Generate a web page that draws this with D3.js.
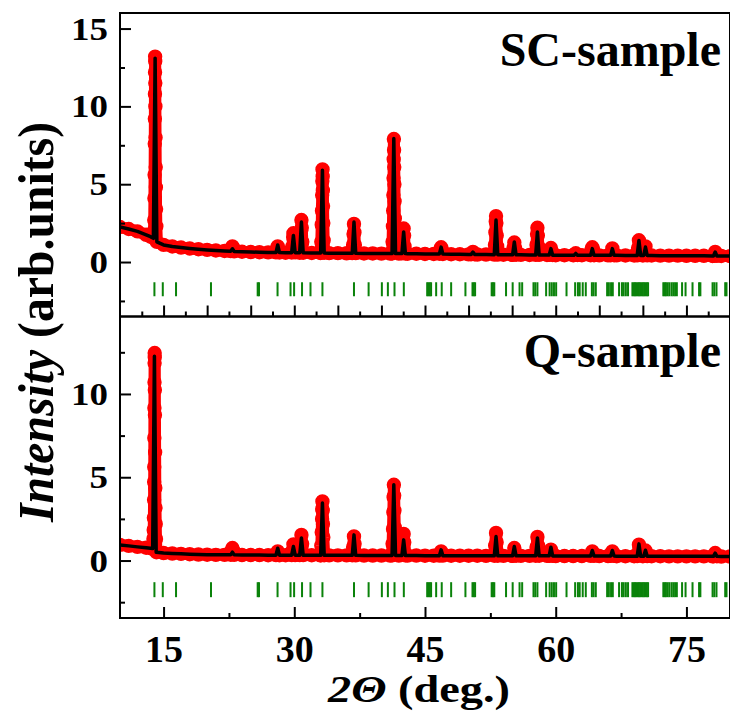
<!DOCTYPE html>
<html>
<head>
<meta charset="utf-8">
<script src="https://cdn.jsdelivr.net/npm/d3@7.9.0/dist/d3.min.js"></script>
<style>
  html, body { margin: 0; padding: 0; background: #fff; }
  svg { display: block; font-family: "Liberation Serif", "Times New Roman", serif; font-weight: bold; }
</style>
</head>
<body>
<div id="chart"></div>
<script>
// ── data ────────────────────────────────────────────────
const xMajor = [15, 30, 45, 60, 75];
const xMinorTop = [12.5, 15, 17.5, 20, 22.5, 25, 27.5, 30, 32.5, 35, 37.5, 40, 42.5, 45, 47.5, 50, 52.5, 55, 57.5, 60, 62.5, 65, 67.5, 70, 72.5, 75, 77.5];
const xMinorBottom = [22.5, 37.5, 52.5, 67.5];
const scTicksY = [0, 5, 10, 15];
const qTicksY = [0, 5, 10];
const yMinor = [-2.5, 2.5, 7.5, 12.5];

// Bragg reflection positions (green bars), 2θ
const braggPos = [13.95, 14.91, 16.43, 20.44, 25.8, 25.95, 28.08, 29.57, 29.98, 30.89, 31.86, 33.23,
  36.85, 38.53, 40.05, 40.74, 41.5, 42.57, 45.25, 45.4, 45.55, 45.7, 46.28, 46.92, 48.0, 49.64,
  50.45, 50.6, 50.75, 52.65, 52.8, 52.95, 54.3, 55.06, 55.85, 56.15, 57.45, 57.65, 57.9, 58.9,
  59.3, 59.55, 59.8, 60.05, 61.24, 62.23, 62.55, 62.75, 63.1, 63.45, 64.15, 64.35, 64.6, 65.9,
  66.1, 66.35, 66.55, 67.27, 67.6, 67.8, 68.05, 68.3, 68.8, 68.95, 69.1, 69.25, 69.4, 69.55,
  69.7, 69.85, 70.0, 70.15, 70.3, 70.45, 70.6, 72.35, 72.5, 72.65, 72.85, 73.05, 73.3, 73.5,
  73.7, 73.9, 74.5, 74.9, 75.7, 76.45, 76.6, 78.0, 78.2, 78.45, 79.45, 79.6];
const braggSpan = [-1.3, -2.2];

// SC-sample
const scBackground = [[10,2.25],[11,2.12],[12,1.97],[13,1.75],[13.5,1.63],[15,1.1],[16,1.0],[17,0.93],
  [18,0.87],[19,0.82],[20,0.78],[21,0.74],[22,0.71],[23,0.68],[24,0.66],[25,0.64],[26,0.63],[27,0.62],
  [28,0.61],[29,0.6],[30,0.6],[31,0.59],[32,0.58],[33,0.58],[34,0.57],[35,0.57],[36,0.56],[37,0.56],
  [38,0.55],[39,0.55],[40,0.54],[41,0.54],[42,0.54],[43,0.53],[44,0.53],[45,0.52],[46,0.52],[47,0.51],
  [48,0.5],[49,0.5],[50,0.49],[51,0.48],[52,0.48],[53,0.47],[54,0.47],[55,0.46],[56,0.46],[57,0.45],
  [58,0.45],[59,0.45],[60,0.44],[61,0.44],[62,0.44],[63,0.44],[64,0.43],[65,0.43],[66,0.43],[67,0.43],
  [68,0.42],[69,0.42],[70,0.42],[71,0.42],[72,0.41],[73,0.41],[74,0.41],[75,0.4],[76,0.4],[77,0.4],
  [78,0.39],[79,0.39],[80,0.38]];
const scObsPeaks = [
  [[13.83,1.55],[13.9,2.0],[13.93,2.7],[13.95,4.1],[13.97,5.6],[13.99,7.6],[14.0,9.2],[14.01,10.8],[14.02,12.2],[14.03,13.2],[14.04,12.9],[14.05,11.5],[14.06,10.0],[14.08,8.0],[14.1,6.1],[14.12,4.8],[14.14,3.4],[14.17,2.3],[14.23,1.3]],
  [[22.7,0.7],[22.8,0.9],[22.9,1.0],[23.0,0.9],[23.1,0.69]],
  [[27.9,0.62],[28.05,0.9],[28.1,1.0],[28.15,0.85],[28.3,0.61]],
  [[29.7,0.61],[29.8,1.0],[29.87,1.6],[29.9,1.85],[29.95,1.4],[30.1,0.62]],
  [[30.62,0.6],[30.72,1.2],[30.78,2.0],[30.82,2.7],[30.86,2.2],[30.92,1.3],[31.02,0.6]],
  [[33.03,0.6],[33.1,1.3],[33.15,2.4],[33.18,3.3],[33.2,4.3],[33.22,5.2],[33.24,5.95],[33.26,5.5],[33.28,4.6],[33.3,3.6],[33.33,2.5],[33.37,1.4],[33.43,0.6]],
  [[36.65,0.57],[36.75,1.1],[36.8,1.8],[36.85,2.45],[36.9,1.9],[36.95,1.1],[37.05,0.57]],
  [[41.22,0.55],[41.28,1.3],[41.32,2.3],[41.35,3.3],[41.37,4.3],[41.39,5.4],[41.41,6.6],[41.43,7.9],[41.45,7.2],[41.47,6.1],[41.49,5.0],[41.51,3.9],[41.54,2.8],[41.58,1.7],[41.62,0.8]],
  [[42.35,0.56],[42.45,1.2],[42.5,1.8],[42.55,2.15],[42.6,1.7],[42.65,1.0],[42.75,0.55]],
  [[46.65,0.53],[46.78,0.8],[46.85,0.95],[46.92,0.8],[47.05,0.52]],
  [[50.3,0.5],[50.5,0.65],[50.7,0.5]],
  [[52.95,0.48],[53.03,1.1],[53.08,1.9],[53.12,2.6],[53.15,2.95],[53.19,2.5],[53.23,1.7],[53.28,1.0],[53.35,0.48]],
  [[55.05,0.47],[55.15,0.9],[55.25,1.25],[55.35,0.9],[55.45,0.47]],
  [[57.7,0.46],[57.8,1.1],[57.86,1.8],[57.9,2.2],[57.95,1.7],[58.0,1.0],[58.1,0.46]],
  [[59.25,0.46],[59.45,0.9],[59.65,0.45]],
  [[62.1,0.45],[62.3,0.56],[62.5,0.45]],
  [[64.0,0.44],[64.12,0.8],[64.2,0.95],[64.28,0.8],[64.4,0.44]],
  [[66.3,0.44],[66.5,0.88],[66.7,0.44]],
  [[69.35,0.43],[69.45,0.9],[69.55,1.4],[69.65,1.0],[69.75,0.6]],
  [[70.1,0.6],[70.3,1.0],[70.5,0.43]],
  [[78.1,0.4],[78.3,0.65],[78.5,0.4]]
];
const scCalcPeaks = [
  [[13.83,1.52],[14.03,13.1],[14.23,1.3]],
  [[22.7,0.69],[22.9,0.85],[23.1,0.68]],
  [[27.9,0.61],[28.1,1.1],[28.3,0.61]],
  [[29.7,0.6],[29.9,1.71],[30.1,0.6]],
  [[30.62,0.6],[30.82,2.57],[31.02,0.59]],
  [[33.03,0.58],[33.23,5.9],[33.43,0.58]],
  [[36.65,0.56],[36.85,2.57],[37.05,0.56]],
  [[41.22,0.54],[41.42,7.93],[41.62,0.54]],
  [[42.35,0.54],[42.55,1.93],[42.75,0.54]],
  [[46.65,0.52],[46.85,0.96],[47.05,0.51]],
  [[50.3,0.49],[50.5,0.64],[50.7,0.49]],
  [[52.95,0.47],[53.15,2.7],[53.35,0.47]],
  [[55.05,0.46],[55.25,1.29],[55.45,0.46]],
  [[57.7,0.45],[57.9,1.93],[58.1,0.45]],
  [[59.25,0.45],[59.45,0.86],[59.65,0.44]],
  [[62.1,0.44],[62.3,0.55],[62.5,0.44]],
  [[64.0,0.43],[64.2,0.86],[64.4,0.43]],
  [[66.3,0.43],[66.5,0.86],[66.7,0.43]],
  [[69.35,0.42],[69.55,1.39],[69.75,0.42]],
  [[70.1,0.42],[70.3,0.96],[70.5,0.42]],
  [[78.1,0.39],[78.3,0.64],[78.5,0.39]]
];

// Q-sample
const qBackground = [[10,0.94],[11,0.88],[12,0.82],[13,0.77],[13.5,0.74],[15,0.45],[16,0.42],[17,0.4],
  [18,0.38],[19,0.36],[20,0.35],[21,0.34],[22,0.34],[23,0.34],[24,0.33],[25,0.33],[26,0.33],[27,0.32],
  [28,0.32],[29,0.32],[30,0.32],[31,0.32],[32,0.32],[33,0.31],[34,0.31],[35,0.31],[36,0.31],[37,0.31],
  [38,0.3],[39,0.3],[40,0.3],[41,0.3],[42,0.3],[43,0.3],[44,0.3],[45,0.29],[46,0.29],[47,0.29],
  [48,0.29],[49,0.29],[50,0.29],[51,0.29],[52,0.28],[53,0.28],[54,0.28],[55,0.28],[56,0.28],[57,0.28],
  [58,0.28],[59,0.28],[60,0.27],[61,0.27],[62,0.27],[63,0.27],[64,0.27],[65,0.27],[66,0.27],[67,0.26],
  [68,0.26],[69,0.26],[70,0.26],[71,0.26],[72,0.26],[73,0.25],[74,0.25],[75,0.25],[76,0.25],[77,0.25],
  [78,0.25],[79,0.24],[80,0.24]];
const qObsPeaks = [
  [[13.75,0.72],[13.84,1.3],[13.87,1.84],[13.89,2.57],[13.91,3.65],[13.92,4.72],[13.93,5.62],[13.94,7.36],[13.95,9.16],[13.96,10.71],[13.97,11.86],[13.98,12.46],[13.99,12.2],[14.0,10.24],[14.01,8.74],[14.03,6.5],[14.05,4.36],[14.07,3.17],[14.1,2.2],[14.13,1.3],[14.18,0.5]],
  [[22.7,0.35],[22.8,0.6],[22.9,0.75],[23.0,0.6],[23.1,0.34]],
  [[27.9,0.33],[28.1,0.55],[28.3,0.32]],
  [[29.7,0.33],[29.8,0.6],[29.9,0.97],[30.0,0.6],[30.1,0.33]],
  [[30.62,0.33],[30.72,0.9],[30.82,1.54],[30.9,1.0],[31.02,0.33]],
  [[33.03,0.32],[33.1,0.9],[33.15,1.7],[33.19,2.5],[33.21,3.1],[33.23,3.55],[33.26,3.0],[33.29,2.2],[33.33,1.4],[33.43,0.32]],
  [[36.65,0.32],[36.75,0.8],[36.85,1.45],[36.92,1.0],[37.05,0.31]],
  [[41.22,0.31],[41.28,1.0],[41.33,1.9],[41.37,2.9],[41.4,3.8],[41.43,4.55],[41.46,3.9],[41.49,3.0],[41.53,2.0],[41.58,1.1],[41.62,0.4]],
  [[42.35,0.4],[42.45,1.0],[42.55,1.6],[42.62,1.1],[42.75,0.31]],
  [[46.65,0.3],[46.85,0.55],[47.05,0.3]],
  [[52.95,0.29],[53.05,0.9],[53.15,1.66],[53.22,1.1],[53.35,0.29]],
  [[55.05,0.29],[55.25,0.75],[55.45,0.29]],
  [[57.7,0.29],[57.8,0.8],[57.9,1.42],[57.98,0.9],[58.1,0.29]],
  [[59.25,0.28],[59.45,0.65],[59.65,0.28]],
  [[64.0,0.28],[64.2,0.55],[64.4,0.28]],
  [[66.3,0.28],[66.5,0.55],[66.7,0.28]],
  [[69.35,0.27],[69.55,0.95],[69.75,0.4]],
  [[70.1,0.4],[70.3,0.6],[70.5,0.27]],
  [[78.1,0.26],[78.3,0.45],[78.5,0.26]]
];
const qCalcPeaks = [
  [[13.75,0.72],[13.95,12.26],[14.15,0.5]],
  [[22.7,0.34],[22.9,0.5],[23.1,0.34]],
  [[27.9,0.32],[28.1,0.74],[28.3,0.32]],
  [[29.7,0.32],[29.9,0.84],[30.1,0.32]],
  [[30.62,0.32],[30.82,1.35],[31.02,0.32]],
  [[33.03,0.31],[33.23,3.45],[33.43,0.31]],
  [[36.65,0.31],[36.85,1.54],[37.05,0.31]],
  [[41.22,0.3],[41.42,4.55],[41.62,0.3]],
  [[42.35,0.3],[42.55,1.24],[42.75,0.3]],
  [[46.65,0.29],[46.85,0.64],[47.05,0.29]],
  [[52.95,0.28],[53.15,1.44],[53.35,0.28]],
  [[55.05,0.28],[55.25,0.84],[55.45,0.28]],
  [[57.7,0.28],[57.9,1.35],[58.1,0.28]],
  [[59.25,0.28],[59.45,0.8],[59.65,0.27]],
  [[64.0,0.27],[64.2,0.6],[64.4,0.27]],
  [[66.3,0.27],[66.5,0.6],[66.7,0.27]],
  [[69.35,0.26],[69.55,1.0],[69.75,0.26]],
  [[70.1,0.26],[70.3,0.62],[70.5,0.26]],
  [[78.1,0.25],[78.3,0.44],[78.5,0.25]]
];

// ── layout ─────────────────────────────────────────────
const width = 730, height = 714;
const plotLeft = 120, plotRight = 730;

const panels = [
  { label: 'SC-sample', top: 13, bottom: 316.5, yDomain: [-3.5, 16], yTicks: scTicksY,
    bg: scBackground, obsPeaks: scObsPeaks, calcPeaks: scCalcPeaks, labelY: 66, xLabels: false },
  { label: 'Q-sample', top: 316.5, bottom: 618, yDomain: [-3.45, 14.65], yTicks: qTicksY,
    bg: qBackground, obsPeaks: qObsPeaks, calcPeaks: qCalcPeaks, labelY: 367, xLabels: true }
];

// merge background points with peak points (drop bg points that fall inside a peak)
function buildSeries(bg, peaks) {
  const spans = peaks.map(p => [p[0][0], p[p.length - 1][0]]);
  const kept = bg.filter(([x]) => !spans.some(([a, b]) => x >= a && x <= b));
  return kept.concat(...peaks).sort((a, b) => a[0] - b[0]);
}

const svg = d3.select('#chart').append('svg')
  .attr('width', width).attr('height', height)
  .attr('viewBox', `0 0 ${width} ${height}`);

const x = d3.scaleLinear().domain([10, 80]).range([plotLeft, plotRight]);

panels.forEach((p, i) => {
  const y = d3.scaleLinear().domain(p.yDomain).range([p.bottom, p.top]);
  const obs = buildSeries(p.bg, p.obsPeaks);
  const calc = buildSeries(p.bg, p.calcPeaks);

  const clipId = `clip${i}`;
  svg.append('clipPath').attr('id', clipId)
    .append('rect')
      .attr('x', plotLeft).attr('y', p.top)
      .attr('width', plotRight - plotLeft).attr('height', p.bottom - p.top);

  const g = svg.append('g').attr('clip-path', `url(#${clipId})`);
  const line = d3.line().x(d => x(d[0])).y(d => y(d[1]));

  // observed: dense red band + open circles
  g.append('path').datum(obs)
    .attr('d', line)
    .attr('fill', 'none').attr('stroke', '#ff0000')
    .attr('stroke-width', 12).attr('stroke-linejoin', 'round').attr('stroke-linecap', 'round');
  g.selectAll('circle.obs').data(obs).join('circle')
    .attr('class', 'obs')
    .attr('cx', d => x(d[0])).attr('cy', d => y(d[1])).attr('r', 6.2)
    .attr('fill', 'none').attr('stroke', '#ff0000').attr('stroke-width', 2);

  // calculated
  g.append('path').datum(calc)
    .attr('d', line)
    .attr('fill', 'none').attr('stroke', '#000')
    .attr('stroke-width', 3.5).attr('stroke-linejoin', 'round');

  // Bragg positions
  g.selectAll('line.bragg').data(braggPos).join('line')
    .attr('class', 'bragg')
    .attr('x1', d => x(d)).attr('x2', d => x(d))
    .attr('y1', y(braggSpan[0])).attr('y2', y(braggSpan[1]))
    .attr('stroke', '#0a820a').attr('stroke-width', 2);

  // y axis (ticks inward)
  const yAxis = svg.append('g').attr('transform', `translate(${plotLeft},0)`)
    .call(d3.axisLeft(y).tickValues(p.yTicks).tickSizeInner(-11).tickSizeOuter(0).tickPadding(12));
  svg.append('g').attr('transform', `translate(${plotLeft},0)`)
    .call(d3.axisLeft(y).tickValues(yMinor).tickSizeInner(-5).tickSizeOuter(0).tickFormat(''));

  yAxis.selectAll('text')
    .attr('font-size', 31).attr('font-family', '"Liberation Serif", serif').attr('font-weight', 'bold')
    .attr('fill', '#000').attr('dy', '0.34em')
    .attr('textLength', d => String(d).length * 18.5).attr('lengthAdjust', 'spacingAndGlyphs');

  // x axis (ticks inward)
  if (p.xLabels) {
    const xAxis = svg.append('g').attr('transform', `translate(0,${p.bottom})`)
      .call(d3.axisBottom(x).tickValues(xMajor).tickSizeInner(-11).tickSizeOuter(0).tickPadding(17));
    svg.append('g').attr('transform', `translate(0,${p.bottom})`)
      .call(d3.axisBottom(x).tickValues(xMinorBottom).tickSizeInner(-5).tickSizeOuter(0).tickFormat(''));
    xAxis.selectAll('text')
      .attr('font-size', 38).attr('font-family', '"Liberation Serif", serif').attr('font-weight', 'bold')
      .attr('fill', '#000');
  } else {
    const major = xMinorTop.filter(v => v % 5 === 0);
    const minor = xMinorTop.filter(v => v % 5 !== 0);
    svg.append('g').attr('transform', `translate(0,${p.bottom})`)
      .call(d3.axisBottom(x).tickValues(major).tickSizeInner(-11).tickSizeOuter(0).tickFormat(''));
    svg.append('g').attr('transform', `translate(0,${p.bottom})`)
      .call(d3.axisBottom(x).tickValues(minor).tickSizeInner(-5).tickSizeOuter(0).tickFormat(''));
  }

  // frame
  svg.append('rect')
    .attr('x', plotLeft).attr('y', p.top)
    .attr('width', plotRight - plotLeft).attr('height', p.bottom - p.top)
    .attr('fill', 'none').attr('stroke', '#000').attr('stroke-width', 2);

  // sample label
  svg.append('text')
    .attr('x', 721).attr('y', p.labelY)
    .attr('text-anchor', 'end').attr('font-size', 48)
    .text(p.label);
});

svg.selectAll('.domain').remove();
svg.selectAll('.tick line').attr('stroke', '#000').attr('stroke-width', 2);

// axis titles
const yTitle = svg.append('text')
  .attr('transform', 'translate(53,322) rotate(-90)')
  .attr('text-anchor', 'middle').attr('font-size', 50)
  .attr('textLength', 400).attr('lengthAdjust', 'spacingAndGlyphs');
yTitle.append('tspan').attr('font-style', 'italic').text('Intensity');
yTitle.append('tspan').text(' (arb.units)');

const xTitle = svg.append('text')
  .attr('x', 328).attr('y', 702)
  .attr('font-size', 37)
  .attr('textLength', 182).attr('lengthAdjust', 'spacingAndGlyphs');
xTitle.append('tspan').attr('font-style', 'italic').text('2Θ');
xTitle.append('tspan').text(' (deg.)');
</script>
</body>
</html>
